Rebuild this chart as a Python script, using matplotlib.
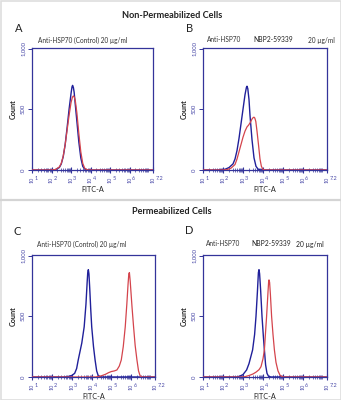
import numpy as np
import matplotlib
matplotlib.use("Agg")
import matplotlib.pyplot as plt
from matplotlib.ticker import LogLocator, NullFormatter, FixedLocator
from matplotlib.lines import Line2D
from matplotlib.patches import Rectangle

# ---- histogram data: log10(FITC-A) positions and event counts ----
a_blue_x = [1.0, 2.0, 2.2, 2.4, 2.5, 2.6, 2.7, 2.8, 2.9, 3.0, 3.05, 3.08, 3.12, 3.16, 3.2, 3.3, 3.4, 3.5, 3.6, 3.7, 3.8, 7.2]
a_blue_y = [0, 0, 3, 20, 50, 110, 210, 350, 500, 630, 685, 697, 680, 640, 570, 400, 230, 100, 30, 8, 0, 0]
a_red_x = [1.0, 2.0, 2.2, 2.4, 2.5, 2.6, 2.7, 2.8, 2.9, 3.0, 3.07, 3.12, 3.17, 3.22, 3.3, 3.4, 3.5, 3.6, 3.7, 3.8, 3.9, 7.2]
a_red_y = [0, 0, 4, 25, 55, 115, 210, 330, 450, 555, 600, 610, 600, 570, 470, 300, 150, 55, 15, 3, 0, 0]

b_blue_x = [1.0, 1.7, 1.9, 2.1, 2.3, 2.5, 2.6, 2.7, 2.8, 2.9, 3.0, 3.1, 3.17, 3.2, 3.24, 3.3, 3.35, 3.45, 3.55, 3.65, 3.75, 3.85, 7.2]
b_blue_y = [0, 0, 2, 6, 20, 50, 90, 160, 260, 380, 500, 620, 680, 690, 670, 580, 450, 250, 100, 30, 8, 0, 0]
b_red_x = [1.0, 2.0, 2.2, 2.4, 2.6, 2.7, 2.8, 2.9, 3.0, 3.1, 3.2, 3.28, 3.36, 3.45, 3.51, 3.55, 3.59, 3.64, 3.7, 3.78, 3.85, 3.92, 4.0, 4.1, 7.2]
b_red_y = [0, 0, 3, 15, 45, 90, 150, 210, 270, 320, 355, 370, 390, 420, 432, 435, 428, 400, 320, 200, 90, 30, 5, 0, 0]

c_blue_x = [1.0, 2.6, 2.8, 3.0, 3.15, 3.25, 3.33, 3.42, 3.51, 3.63, 3.72, 3.78, 3.81, 3.84, 3.87, 3.91, 3.96, 4.01, 4.1, 4.18, 4.26, 4.33, 4.42, 4.5, 7.2]
c_blue_y = [0, 0, 3, 12, 30, 70, 140, 210, 280, 413, 600, 780, 860, 884, 850, 730, 560, 413, 250, 140, 50, 15, 3, 0, 0]
c_red_x = [1.0, 4.2, 4.3, 4.5, 4.7, 4.85, 5.0, 5.15, 5.28, 5.4, 5.5, 5.6, 5.7, 5.78, 5.84, 5.88, 5.91, 5.95, 6.04, 6.12, 6.2, 6.29, 6.37, 6.45, 6.55, 7.2]
c_red_y = [0, 0, 3, 10, 22, 35, 45, 50, 58, 90, 140, 250, 413, 600, 760, 850, 860, 790, 580, 413, 260, 140, 50, 10, 0, 0]

d_blue_x = [1.0, 2.7, 2.85, 3.0, 3.18, 3.3, 3.48, 3.58, 3.65, 3.72, 3.77, 3.8, 3.83, 3.88, 3.95, 4.02, 4.07, 4.13, 4.2, 4.28, 4.4, 7.2]
d_blue_y = [0, 0, 8, 20, 58, 110, 223, 350, 500, 700, 860, 884, 850, 720, 500, 330, 223, 100, 30, 5, 0, 0]
d_red_x = [1.0, 3.0, 3.1, 3.3, 3.5, 3.65, 3.8, 3.9, 4.0, 4.07, 4.12, 4.18, 4.25, 4.28, 4.3, 4.33, 4.37, 4.43, 4.5, 4.57, 4.65, 4.75, 4.85, 4.95, 5.05, 7.2]
d_red_y = [0, 0, 3, 12, 25, 40, 60, 85, 150, 223, 350, 500, 700, 780, 800, 780, 680, 500, 350, 223, 120, 50, 15, 3, 0, 0]

panel_letters = ["A", "B", "C", "D"]
decades = [1, 2, 3, 4, 5, 6, 7.2]
decade_labels = ["1", "2", "3", "4", "5", "6", "7.2"]
y_ticks = [0, 500, 1000]
y_tick_labels = ["0", "500", "1,000"]

FRAME = "#34349a"
BLUE = "#20209a"
RED = "#d4444c"
FONT = ["Lato", "DejaVu Sans"]

W, H = 341, 400
fig = plt.figure(figsize=(W / 100, H / 100), dpi=100)
fig.patch.set_facecolor("white")


def px_axes(left, top, right, bottom):
    return fig.add_axes([left / W, 1 - bottom / H, (right - left) / W, (bottom - top) / H])


def draw_panel(ax, blue_x, blue_y, red_x, red_y):
    ax.plot(10 ** np.asarray(blue_x), blue_y, color=BLUE, lw=1.0, zorder=3)
    ax.plot(10 ** np.asarray(red_x), red_y, color=RED, lw=0.9, zorder=4)
    ax.set_xscale("log")
    ax.set_xlim(10 ** 1, 10 ** 7.2)
    ax.set_ylim(0, 1005)
    for s in ax.spines.values():
        s.set_color(FRAME)
        s.set_linewidth(0.9)
    ax.xaxis.set_major_locator(FixedLocator([10 ** d for d in decades]))
    ax.xaxis.set_minor_locator(LogLocator(base=10, subs=np.arange(2, 10), numticks=20))
    ax.xaxis.set_major_formatter(NullFormatter())
    ax.xaxis.set_minor_formatter(NullFormatter())
    ax.tick_params(axis="x", which="major", direction="inout", length=5, width=0.8, color=FRAME)
    ax.tick_params(axis="x", which="minor", direction="inout", length=3.5, width=0.5, color=FRAME)
    ax.set_yticks(y_ticks)
    ax.set_yticklabels(y_tick_labels, rotation=90, va="center", fontsize=4.3,
                       color="#4a4aa8", family=FONT)
    ax.tick_params(axis="y", direction="out", length=3, width=0.7, color=FRAME, pad=1.5)
    # decade labels: rotated "10" with an upright exponent
    for d, lab in zip(decades, decade_labels):
        ax.annotate("10", xy=(10 ** d, 0), xycoords=("data", "axes fraction"),
                    xytext=(0, -4.5), textcoords="offset points", rotation=90,
                    ha="center", va="top", fontsize=4.0, color="#4a4aa8", family=FONT)
        ax.annotate(lab, xy=(10 ** d, 0), xycoords=("data", "axes fraction"),
                    xytext=(1.6, -4.2), textcoords="offset points",
                    ha="left", va="top", fontsize=4.0, color="#4a4aa8", family=FONT)
    ax.set_xlabel("FITC-A", fontsize=5.2, family=FONT, labelpad=5.5, color="#222222")
    ax.set_ylabel("Count", fontsize=5.2, family=FONT, labelpad=3, color="#222222",
                  fontweight="bold")


axA = px_axes(32, 48, 153, 170)
axB = px_axes(203, 48, 327, 170)
axC = px_axes(32, 255, 155, 377)
axD = px_axes(203, 255, 327, 377)

draw_panel(axA, a_blue_x, a_blue_y, a_red_x, a_red_y)
draw_panel(axB, b_blue_x, b_blue_y, b_red_x, b_red_y)
draw_panel(axC, c_blue_x, c_blue_y, c_red_x, c_red_y)
draw_panel(axD, d_blue_x, d_blue_y, d_red_x, d_red_y)


def ftext(x, y, s, **kw):
    fig.text(x / W, 1 - y / H, s, family=FONT, **kw)


# section headings
ftext(172, 15, "Non-Permeabilized Cells", fontsize=6.6, fontweight="bold",
      ha="center", va="center", color="#222222")
ftext(172, 211, "Permeabilized Cells", fontsize=6.6, fontweight="bold",
      ha="center", va="center", color="#222222")

# panel letters
for (x, y), letter in zip([(19, 28), (190, 28), (17, 232), (189, 231)], panel_letters):
    ftext(x, y, letter, fontsize=8, ha="center", va="center", color="#222222")

# antibody annotations
ftext(38, 40, "Anti-HSP70 (Control) 20 µg/ml", fontsize=4.7, ha="left", va="center", color="#333333")
ftext(207, 40, "Anti-HSP70", fontsize=4.7, ha="left", va="center", color="#333333")
ftext(253, 40, "NBP2-59339", fontsize=4.9, ha="left", va="center", color="#222222")
ftext(308, 40, "20 µg/ml", fontsize=4.7, ha="left", va="center", color="#333333")

ftext(37, 244, "Anti-HSP70 (Control) 20 µg/ml", fontsize=4.7, ha="left", va="center", color="#333333")
ftext(206, 244, "Anti-HSP70", fontsize=4.7, ha="left", va="center", color="#333333")
ftext(251, 244, "NBP2-59339", fontsize=4.9, ha="left", va="center", color="#222222")
ftext(296, 244, "20 µg/ml", fontsize=4.9, ha="left", va="center", color="#222222")

# divider between the two sections and the outer frame
fig.add_artist(Line2D([0, 1], [1 - 200 / H, 1 - 200 / H], transform=fig.transFigure,
                      color="#d4d4d4", lw=1.6))
fig.add_artist(Rectangle((0.5 / W, 0.5 / H), 1 - 1 / W, 1 - 1 / H, transform=fig.transFigure,
                         fill=False, edgecolor="#dedede", lw=1.2))

fig.savefig("out.png", dpi=100)
